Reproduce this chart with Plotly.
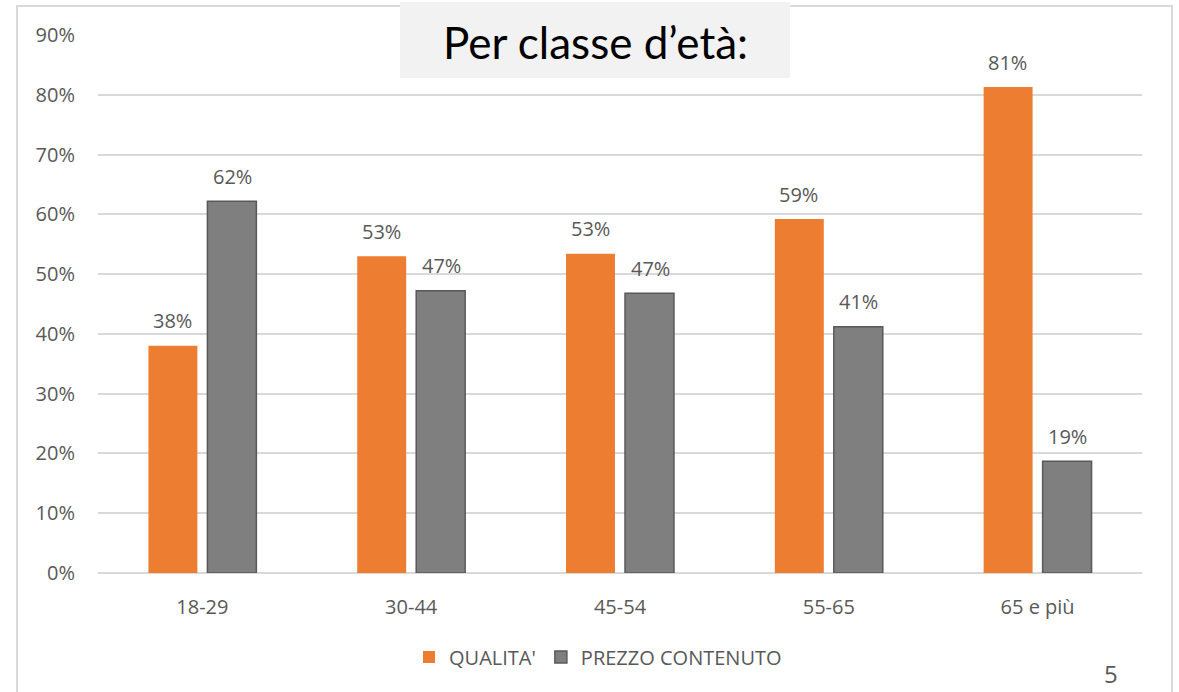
import plotly.graph_objects as go

categories = ["18-29", "30-44", "45-54", "55-65", "65 e più"]
qualita = [0.38, 0.53, 0.534, 0.592, 0.813]
prezzo = [0.622, 0.472, 0.468, 0.412, 0.187]
qualita_labels = ["38%", "53%", "53%", "59%", "81%"]
prezzo_labels = ["62%", "47%", "47%", "41%", "19%"]
y_ticks = [i / 10 for i in range(10)]
y_ticklabels = [f"{i*10}%" for i in range(10)]

W, H = 1179, 692
L, R, T, B = 98, 1142, 35, 573

def px(x):
    return (x - L) / (R - L)

def py(y):
    return (B - y) / (B - T)

fig = go.Figure()
fig.add_trace(go.Bar(
    x=categories, y=qualita, name="QUALITA'",
    marker=dict(color="#ED7D31", line=dict(width=0)),
))
fig.add_trace(go.Bar(
    x=categories, y=prezzo, name="PREZZO CONTENUTO",
    marker=dict(color="#7F7F7F", line=dict(color="#595959", width=1.5)),
))

font_family = "Open Sans"
label_color = "#595959"
fs = 20

annotations = []
for i, c in enumerate(categories):
    annotations.append(dict(x=c, y=qualita[i], xref="x", yref="y", text=qualita_labels[i],
                            showarrow=False, xshift=-30, yshift=25,
                            font=dict(size=fs, color=label_color, family=font_family)))
    annotations.append(dict(x=c, y=prezzo[i], xref="x", yref="y", text=prezzo_labels[i],
                            showarrow=False, xshift=30, yshift=25,
                            font=dict(size=fs, color=label_color, family=font_family)))

annotations.append(dict(x=px(595), y=py(42), xref="paper", yref="paper", text="Per classe d’età:",
                        showarrow=False, xanchor="center", yanchor="middle",
                        font=dict(size=44, color="#000000", family="Lato")))
annotations.append(dict(x=px(1111), y=py(674), xref="paper", yref="paper", text="5",
                        showarrow=False, xanchor="center", yanchor="middle",
                        font=dict(size=24, color="#595959", family=font_family)))

shapes = [
    dict(type="rect", xref="paper", yref="paper", x0=px(17), x1=px(1172), y0=py(720), y1=py(6),
         line=dict(color="#D9D9D9", width=2), fillcolor="rgba(0,0,0,0)", layer="below"),
    dict(type="rect", xref="paper", yref="paper", x0=px(400), x1=px(790), y0=py(78), y1=py(2),
         line=dict(width=0), fillcolor="#F2F2F2", layer="above"),
]

fig.update_layout(
    width=W, height=H,
    margin=dict(l=L, r=W - R, t=T, b=H - B),
    paper_bgcolor="white", plot_bgcolor="white",
    barmode="group", bargap=0.435, bargroupgap=0.17,
    font=dict(family=font_family, color=label_color, size=fs),
    showlegend=True,
    legend=dict(orientation="h", x=px(598), y=py(657), xanchor="center", yanchor="middle",
                font=dict(size=fs, color=label_color, family=font_family),
                itemwidth=30, tracegroupgap=0),
    annotations=annotations,
    shapes=shapes,
)
fig.update_yaxes(range=[0, 0.9], tickvals=y_ticks, ticktext=y_ticklabels,
                 showgrid=True, gridcolor="#D9D9D9", gridwidth=1.5,
                 zeroline=True, zerolinecolor="#D9D9D9", zerolinewidth=1.5,
                 showline=False, ticklabelstandoff=22,
                 tickfont=dict(size=fs, color=label_color, family=font_family))
fig.update_xaxes(showgrid=False, showline=False, ticks="", ticklabelstandoff=20,
                 tickfont=dict(size=fs, color=label_color, family=font_family))

fig.write_html(
    "out.html",
    config={"displayModeBar": False},
    post_script="document.body.style.margin='0';document.body.style.overflow='hidden';",
)
